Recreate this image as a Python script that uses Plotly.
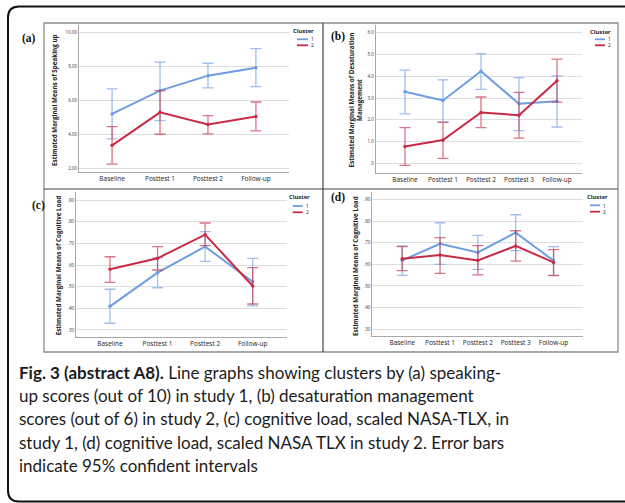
import plotly.graph_objects as go

# ---------------- data ----------------
cats_a = ["Baseline", "Posttest 1", "Posttest 2", "Follow-up"]
a_c1_mean = [5.20, 6.57, 7.45, 7.92]
a_c1_hi = [6.67, 8.25, 8.18, 9.04]
a_c1_lo = [3.73, 4.80, 6.73, 6.80]
a_c2_mean = [3.35, 5.29, 4.57, 5.04]
a_c2_hi = [4.45, 6.57, 5.10, 5.90]
a_c2_lo = [2.24, 4.00, 4.02, 4.20]

cats_b = ["Baseline", "Posttest 1", "Posttest 2", "Posttest 3", "Follow-up"]
b_c1_mean = [3.29, 2.89, 4.23, 2.74, 2.85]
b_c1_hi = [4.29, 3.84, 5.04, 3.94, 4.02]
b_c1_lo = [2.27, 1.91, 3.40, 1.50, 1.67]
b_c2_mean = [0.77, 1.07, 2.34, 2.21, 3.80]
b_c2_hi = [1.64, 1.88, 3.05, 3.26, 4.79]
b_c2_lo = [-0.09, 0.23, 1.64, 1.16, 2.81]

cats_c = ["Baseline", "Posttest 1", "Posttest 2", "Follow-up"]
c_c1_mean = [0.409, 0.565, 0.685, 0.523]
c_c1_hi = [0.488, 0.634, 0.754, 0.631]
c_c1_lo = [0.331, 0.495, 0.617, 0.411]
c_c2_mean = [0.580, 0.631, 0.740, 0.503]
c_c2_hi = [0.638, 0.685, 0.794, 0.588]
c_c2_lo = [0.520, 0.577, 0.689, 0.420]

cats_d = ["Baseline", "Posttest 1", "Posttest 2", "Posttest 3", "Follow-up"]
d_c1_mean = [0.618, 0.695, 0.655, 0.746, 0.617]
d_c1_hi = [0.685, 0.792, 0.734, 0.829, 0.682]
d_c1_lo = [0.549, 0.600, 0.577, 0.663, 0.548]
d_c2_mean = [0.626, 0.643, 0.618, 0.685, 0.609]
d_c2_hi = [0.682, 0.723, 0.686, 0.755, 0.668]
d_c2_lo = [0.571, 0.558, 0.551, 0.615, 0.549]

ticks_a = [2, 4, 6, 8, 10]
ticktext_a = ["2.00", "4.00", "6.00", "8.00", "10.00"]
ticks_b = [0, 1, 2, 3, 4, 5, 6]
ticktext_b = [".0", "1.0", "2.0", "3.0", "4.0", "5.0", "6.0"]
ticks_cd = [0.3, 0.4, 0.5, 0.6, 0.7, 0.8, 0.9]
ticktext_cd = [".30", ".40", ".50", ".60", ".70", ".80", ".90"]

cluster_names = ["1", "2"]
ytitles = ["Estimated Marginal Means of Speaking up",
           "Estimated Marginal Means of Desaturation<br>Management",
           "Estimated Marginal Means of Cognitive Load",
           "Estimated Marginal Means of Cognitive Load"]
panel_labels = ["(a)", "(b)", "(c)", "(d)"]
caption_lines = [
    "<b>Fig. 3 (abstract A8).</b> Line graphs showing clusters by (a) speaking-",
    "up scores (out of 10) in study 1, (b) desaturation management",
    "scores (out of 6) in study 2, (c) cognitive load, scaled NASA-TLX, in",
    "study 1, (d) cognitive load, scaled NASA TLX in study 2. Error bars",
    "indicate 95% confident intervals",
]

# ---------------- styling ----------------
W, H = 625, 503
def px(x): return x / W
def py(y): return 1 - y / H

BLUE = "#6d9de2"
RED = "#c92b45"
BLUE_ERR = "rgba(109,157,226,0.65)"
RED_ERR = "rgba(201,43,69,0.65)"
SANS = "Open Sans"
GRID = "#dedede"
AXL = "#a8a8a8"

fig = go.Figure()

panels = [
    dict(cats=cats_a, s=[(a_c1_mean, a_c1_hi, a_c1_lo), (a_c2_mean, a_c2_hi, a_c2_lo)],
         xd=[79, 289], yd=[172, 25], xr=[-0.69, 3.69], yr=[1.78, 10.43],
         tv=ticks_a, tt=ticktext_a),
    dict(cats=cats_b, s=[(b_c1_mean, b_c1_hi, b_c1_lo), (b_c2_mean, b_c2_hi, b_c2_lo)],
         xd=[375.7, 581.7], yd=[172.7, 25], xr=[-0.77, 4.65], yr=[-0.43, 6.36],
         tv=ticks_b, tt=ticktext_b),
    dict(cats=cats_c, s=[(c_c1_mean, c_c1_hi, c_c1_lo), (c_c2_mean, c_c2_hi, c_c2_lo)],
         xd=[76, 286.7], yd=[336.7, 192], xr=[-0.714, 3.714], yr=[0.269, 0.937],
         tv=ticks_cd, tt=ticktext_cd),
    dict(cats=cats_d, s=[(d_c1_mean, d_c1_hi, d_c1_lo), (d_c2_mean, d_c2_hi, d_c2_lo)],
         xd=[372.3, 582.7], yd=[336, 192], xr=[-0.79, 4.77], yr=[0.269, 0.934],
         tv=ticks_cd, tt=ticktext_cd),
]

layout = {}
for i, p in enumerate(panels):
    k = "" if i == 0 else str(i + 1)
    for j, (m, hi, lo) in enumerate(p["s"]):
        col = BLUE if j == 0 else RED
        ecol = BLUE_ERR if j == 0 else RED_ERR
        fig.add_trace(go.Scatter(
            x=p["cats"], y=m, mode="lines+markers",
            line=dict(color=col, width=2),
            marker=dict(color=col, size=3.5),
            error_y=dict(type="data", symmetric=False,
                         array=[h - v for h, v in zip(hi, m)],
                         arrayminus=[v - l for v, l in zip(m, lo)],
                         color=ecol, thickness=1.3, width=5.5),
            xaxis="x" + k, yaxis="y" + k, showlegend=False,
            name=cluster_names[j]))
    layout["xaxis" + k] = dict(
        domain=[px(p["xd"][0]), px(p["xd"][1])], anchor="y" + k,
        type="category", range=p["xr"], showgrid=False, showline=True,
        linecolor=AXL, linewidth=1, ticks="", zeroline=False,
        tickfont=dict(family=SANS, size=6.5, color="#222"))
    layout["yaxis" + k] = dict(
        domain=[py(p["yd"][0]), py(p["yd"][1])], anchor="x" + k,
        range=p["yr"], tickvals=p["tv"], ticktext=p["tt"],
        showgrid=True, gridcolor=GRID, gridwidth=1, showline=True,
        linecolor=AXL, linewidth=1, ticks="", zeroline=False,
        tickfont=dict(family=SANS, size=4.5, color="#333"))

shapes = []
# outer black rounded frame (left part visible)
r = 11
L, T, B, R = 8, 6.5, 501.5, 640
path = (f"M {px(R)},{py(T)} L {px(L + r)},{py(T)} "
        f"Q {px(L)},{py(T)} {px(L)},{py(T + r)} "
        f"L {px(L)},{py(B - r)} Q {px(L)},{py(B)} {px(L + r)},{py(B)} "
        f"L {px(R)},{py(B)}")
shapes.append(dict(type="path", xref="paper", yref="paper", path=path,
                   line=dict(color="#111", width=2)))
# grey figure box and dividers
shapes.append(dict(type="rect", xref="paper", yref="paper",
                   x0=px(44), x1=px(618), y0=py(352), y1=py(23),
                   line=dict(color="#8c8c8c", width=1.3)))
shapes.append(dict(type="line", xref="paper", yref="paper",
                   x0=px(323), x1=px(323), y0=py(352), y1=py(23),
                   line=dict(color="#444", width=1.2)))
shapes.append(dict(type="line", xref="paper", yref="paper",
                   x0=px(44), x1=px(618), y0=py(189), y1=py(189),
                   line=dict(color="#444", width=1.2)))

annotations = []
# legends
legend_pos = [  # title center x, title y, line x0, x1, y1, y2, text x
    (303, 30.5, 297, 308, 39.3, 45.3, 310),
    (600, 31.7, 595, 605, 39.3, 45.3, 607),
    (299.7, 197.3, 292.7, 302.7, 206, 212.3, 305),
    (597, 196.7, 590, 600, 205.3, 211.7, 602),
]
for (tx, ty, lx0, lx1, ly1, ly2, ttx) in legend_pos:
    annotations.append(dict(xref="paper", yref="paper", x=px(tx), y=py(ty),
                            text="<b>Cluster</b>", showarrow=False, borderpad=0,
                            font=dict(family=SANS, size=5.8, color="#222"),
                            xanchor="center", yanchor="middle"))
    for ly, col in [(ly1, BLUE), (ly2, RED)]:
        shapes.append(dict(type="line", xref="paper", yref="paper",
                           x0=px(lx0), x1=px(lx1), y0=py(ly), y1=py(ly),
                           line=dict(color=col, width=1.8)))
    annotations.append(dict(xref="paper", yref="paper", x=px(ttx),
                            y=py((ly1 + ly2) / 2),
                            text="<br>".join(cluster_names), showarrow=False,
                            borderpad=0, align="left",
                            font=dict(family=SANS, size=4.8, color="#222"),
                            xanchor="left", yanchor="middle"))

# y-axis titles
ytitle_pos = [(55, 100), (355.5, 100), (58.3, 265), (355, 266)]
for (x, y), t in zip(ytitle_pos, ytitles):
    annotations.append(dict(xref="paper", yref="paper", x=px(x), y=py(y),
                            text="<b>" + t + "</b>", showarrow=False, textangle=-90,
                            font=dict(family=SANS, size=6.3, color="#222"),
                            xanchor="center", yanchor="middle"))

# panel labels
label_pos = [(29, 39), (337.5, 36.7), (38, 205), (337.5, 198)]
for (x, y), t in zip(label_pos, panel_labels):
    annotations.append(dict(xref="paper", yref="paper", x=px(x), y=py(y),
                            text="<b>" + t + "</b>", showarrow=False,
                            font=dict(family="Liberation Serif", size=11.5, color="#111"),
                            xanchor="center", yanchor="middle"))

# caption
cap_y = [372, 395.3, 418.6, 442, 465.3]
for y, t in zip(cap_y, caption_lines):
    annotations.append(dict(xref="paper", yref="paper", x=px(17), y=py(y),
                            text=t, showarrow=False,
                            font=dict(family="Lato", size=17, color="#1c1c1c"),
                            xanchor="left", yanchor="middle"))

fig.update_layout(
    width=W, height=H, autosize=False,
    margin=dict(l=0, r=0, t=0, b=0),
    paper_bgcolor="white", plot_bgcolor="white",
    showlegend=False, shapes=shapes, annotations=annotations,
    hovermode=False,
    **layout)

fig.write_html("out.html",
               config={"displayModeBar": False, "staticPlot": True},
               post_script="document.body.style.margin='0';"
                           "document.body.style.overflow='hidden';")
